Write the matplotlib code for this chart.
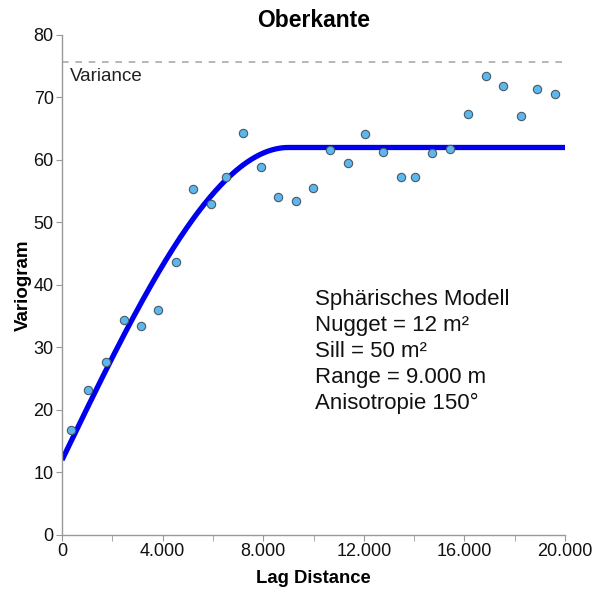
import numpy as np
import matplotlib
matplotlib.use("Agg")
import matplotlib.pyplot as plt
from matplotlib.ticker import FuncFormatter, MultipleLocator

plt.rcParams['font.family'] = ['Liberation Sans', 'DejaVu Sans']

lag = [358, 1046, 1750, 2465, 3141, 3830, 4533, 5197, 5913, 6509, 7197, 7900,
       8588, 9316, 9992, 10668, 11372, 12060, 12752, 13467, 14048, 14724, 15427,
       16143, 16847, 17535, 18239, 18899, 19614]
gamma = [16.8, 23.2, 27.7, 34.4, 33.5, 36.0, 43.6, 55.4, 53.0, 57.3, 64.3, 58.8,
         54.1, 53.5, 55.5, 61.6, 59.5, 64.1, 61.3, 57.3, 57.3, 61.1, 61.8,
         67.3, 73.4, 71.8, 67.1, 71.3, 70.5]

nugget = 12
sill = 50
rng = 9000
variance = 75.7

title = "Oberkante"
model_text = "Sphärisches Modell\nNugget = 12 m²\nSill = 50 m²\nRange = 9.000 m\nAnisotropie 150°"

fig = plt.figure(figsize=(5.93, 5.92), dpi=100)
ax = fig.add_axes([0.1046, 0.0963, 0.8482, 0.8446])

h = np.linspace(0, 20000, 600)
r = np.clip(h / rng, 0, 1)
model = nugget + sill * (1.5 * r - 0.5 * r ** 3)
ax.plot(h, model, color='#0000ee', lw=3.8, solid_capstyle='butt', zorder=2)

ax.scatter(lag, gamma, s=36, color='#5cb8ec', edgecolor='#4a5a66', linewidth=0.8, zorder=3)

ax.axhline(variance, color='#aaaaaa', lw=1.2, ls=(0, (4, 4)), zorder=1)
ax.text(300, variance - 1.0, "Variance", fontsize=13.5, color='#222222', va='top', ha='left')

ax.text(10060, 39.3, model_text, fontsize=16, va='top', ha='left', linespacing=1.3, color='#111111')

ax.set_xlim(0, 20000)
ax.set_ylim(0, 80)
ax.xaxis.set_major_locator(MultipleLocator(4000))
ax.xaxis.set_minor_locator(MultipleLocator(2000))
ax.yaxis.set_major_locator(MultipleLocator(10))
ax.xaxis.set_major_formatter(FuncFormatter(lambda v, p: f"{int(v):,}".replace(",", ".")))

for s in ['top', 'right']:
    ax.spines[s].set_visible(False)
for s in ['left', 'bottom']:
    ax.spines[s].set_color('#999999')
    ax.spines[s].set_linewidth(1.0)
ax.tick_params(which='both', color='#999999', labelsize=13, labelcolor='#111111')
ax.tick_params(axis='x', which='both', direction='out', length=4, pad=2)
ax.tick_params(axis='y', direction='out', length=4, pad=2)

ax.set_title(title, fontsize=16.5, fontweight='bold', pad=6)
ax.set_xlabel("Lag Distance", fontsize=13.3, fontweight='bold', labelpad=7)
ax.set_ylabel("Variogram", fontsize=13.5, fontweight='bold', labelpad=1)

fig.savefig("out.png", dpi=100)
